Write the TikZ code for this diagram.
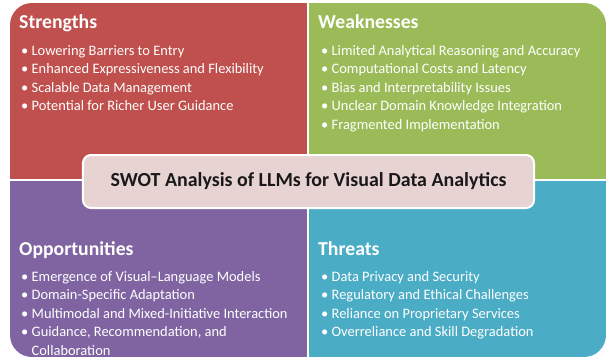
\documentclass[tikz,border=0pt]{standalone}
\usepackage{fontspec}
\setmainfont{Carlito}
\definecolor{swotred}{HTML}{C0504D}
\definecolor{swotgreen}{HTML}{9BBB59}
\definecolor{swotpurple}{HTML}{8064A2}
\definecolor{swotblue}{HTML}{4BACC6}
\definecolor{swotpink}{HTML}{E8D3D3}
\tikzset{
swot title/.style={anchor=base west, inner sep=0pt, text=white, font=\fontsize{19.8}{22}\selectfont\bfseries},
swot item/.style={anchor=base west, inner sep=0pt, text=white, font=\fontsize{14.5}{18}\selectfont},
swot center/.style={fill=swotpink, draw=white, line width=2bp, rounded corners=8bp,
  minimum width=451bp, minimum height=53bp, font=\fontsize{20}{22}\selectfont\bfseries, text=black!90}
}
\newcommand{\swotlist}[4]{
\foreach \txt [count=\i] in {#4}
  \node[swot item] (#1-\i) at (#2, {#3 + 18.5*(\i-1)}) {\textbullet\ \txt};
}

\begin{document}
\begin{tikzpicture}[x=1bp, y=-1bp]
\useasboundingbox (0, 0) rectangle (608, 362);

\begin{scope}
\clip[rounded corners=22bp] (10, 3) rectangle (606, 357);
\fill[swotred] (10, 3) rectangle (307, 179);
\fill[swotgreen] (309, 3) rectangle (606, 179);
\fill[swotpurple] (10, 181) rectangle (307, 357);
\fill[swotblue] (309, 181) rectangle (606, 357);
\end{scope}

\node[swot title] (strengths) at (19, 28) {Strengths};
\swotlist{s}{21}{55}{Lowering Barriers to Entry, Enhanced Expressiveness and Flexibility,
  Scalable Data Management, Potential for Richer User Guidance}

\node[swot title] (weaknesses) at (318, 28) {Weaknesses};
\swotlist{w}{321}{55}{Limited Analytical Reasoning and Accuracy, Computational Costs and Latency,
  Bias and Interpretability Issues, Unclear Domain Knowledge Integration, Fragmented Implementation}

\node[swot title] (opportunities) at (19, 255) {Opportunities};
\swotlist{o}{21}{281}{Emergence of Visual--Language Models, Domain-Specific Adaptation,
  Multimodal and Mixed-Initiative Interaction, {Guidance, Recommendation, and}}
\node[swot item] (o-5) at ([yshift=-18.5bp]o-4.base west) {\hphantom{\textbullet\ }Collaboration};

\node[swot title] (threats) at (318, 255) {Threats};
\swotlist{t}{321}{281}{Data Privacy and Security, Regulatory and Ethical Challenges,
  Reliance on Proprietary Services, Overreliance and Skill Degradation}

\node[swot center] (swot) at (308.5, 181.5) {SWOT Analysis of LLMs for Visual Data Analytics};
\end{tikzpicture}
\end{document}
